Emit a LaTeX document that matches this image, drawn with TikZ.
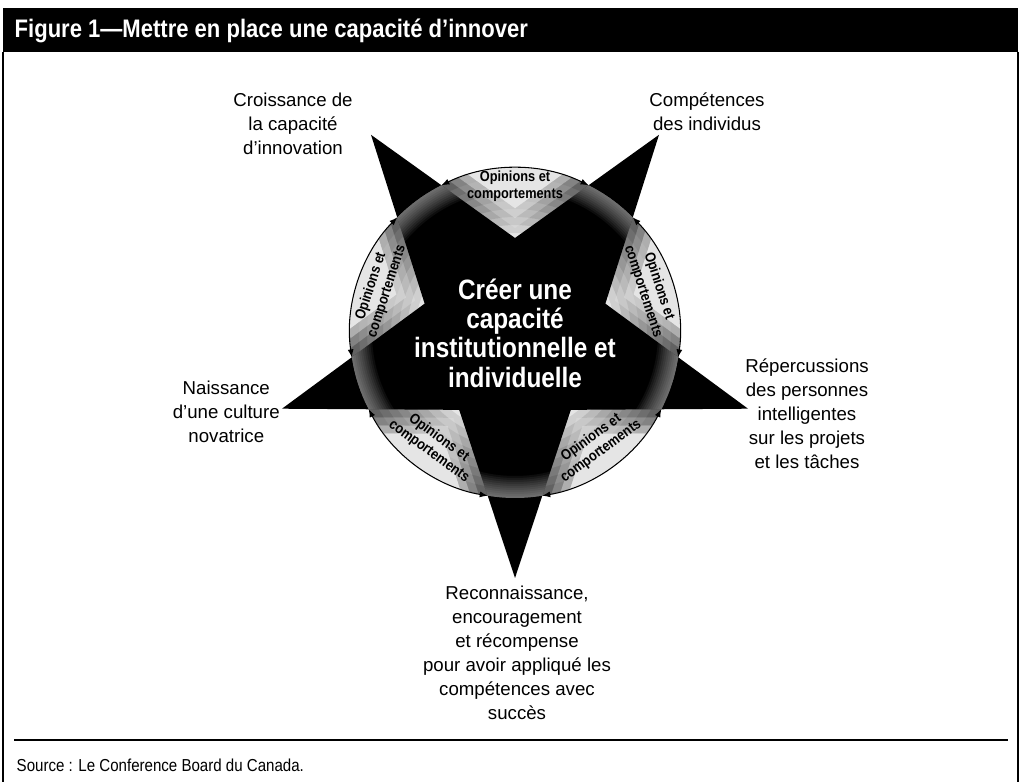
\documentclass[tikz,border=0pt]{standalone}
\usepackage{fontspec}
\setmainfont{Liberation Sans}
\newfontfamily\condfont{Liberation Sans}[FakeStretch=0.87]
\usepackage{tikz}
\usetikzlibrary{arrows.meta}

\def\starpath{(18:95) -- (54:245) -- (90:95) -- (126:245) -- (162:95) -- (198:245) -- (234:95) -- (270:245) -- (306:95) -- (342:245) -- cycle}

\tikzset{
  outer label/.style={align=center, inner sep=0pt, font=\fontsize{14}{18}\selectfont},
  ring label/.style={align=center, inner sep=0pt, font=\condfont\bfseries\fontsize{11}{12.5}\selectfont},
  ring arrow/.style={line width=0.8pt, {Latex[length=6pt,width=4.5pt]}-{Latex[length=6pt,width=4.5pt]}},
}

\begin{document}
\begin{tikzpicture}[x=0.75pt,y=0.75pt]
  \useasboundingbox (0,0) rectangle (1021,782);
  \fill[white] (0,0) rectangle (1021,782);

  \fill[black] (3,730) rectangle (1018,774);
  \node[anchor=west, text=white, font=\condfont\bfseries\fontsize{19}{22}\selectfont] (title) at (10,751) {Figure 1—Mettre en place une capacité d’innover};
  \draw[line width=1.2pt] (3,730) -- (3,0);
  \draw[line width=1.2pt] (1018,730) -- (1018,0);
  \draw[line width=1.6pt] (14,42) -- (1008,42);
  \node[anchor=west, font=\condfont\fontsize{13}{15}\selectfont] (source) at (12,17) {Source : Le Conference Board du Canada.};

  \begin{scope}[shift={(515,449)}]
    \fill[black!10] (0,0) circle[radius=165];
    \begin{scope}
      \clip (0,0) circle[radius=165];
      \foreach \r in {100,108,...,156} {
        \begin{scope}
          \clip (170,0) arc[start angle=0, end angle=360, radius=170] -- (\r,0) arc[start angle=360, end angle=0, radius=\r] -- cycle;
          \foreach \w in {36,24,12}
            \draw[black, opacity=0.03, line width=\w pt, line join=round] \starpath;
        \end{scope}
      }
    \end{scope}
    \fill[black] \starpath;
    \begin{scope}
      \clip \starpath;
      \foreach \r in {143,145,...,163}
        \fill[white, opacity=0.05] (165,0) arc[start angle=0, end angle=360, radius=165] -- (\r,0) arc[start angle=360, end angle=0, radius=\r] -- cycle;
    \end{scope}

    \foreach \a in {54,126,198,270,342}
      \draw[ring arrow] (\a+9.5:165) arc[start angle=\a+9.5, end angle=\a+62.5, radius=165];

    \node[ring label] (op1) at (90:147) {Opinions et\\comportements};
    \node[ring label, rotate=72] (op2) at (162:143) {Opinions et\\comportements};
    \node[ring label, rotate=-36] (op3) at (234:138) {Opinions et\\comportements};
    \node[ring label, rotate=36] (op4) at (306:138) {Opinions et\\comportements};
    \node[ring label, rotate=-72] (op5) at (18:143) {Opinions et\\comportements};

    \node[text=white, align=center, font=\condfont\bfseries\fontsize{21}{22}\selectfont] (core) at (0,0) {Créer une\\capacité\\institutionnelle et\\individuelle};
  \end{scope}

  \node[outer label] (growth) at (293,658.5) {Croissance de\\la capacité\\d’innovation};
  \node[outer label] (skills) at (707,670.5) {Compétences\\des individus};
  \node[outer label, anchor=east] (culture) at (280,370.5) {Naissance\\d’une culture\\novatrice};
  \node[outer label] (impact) at (807,368) {Répercussions\\des personnes\\intelligentes\\sur les projets\\et les tâches};
  \node[outer label] (reward) at (517,129.5) {Reconnaissance,\\encouragement\\et récompense\\pour avoir appliqué les\\compétences avec\\succès};
\end{tikzpicture}
\end{document}
